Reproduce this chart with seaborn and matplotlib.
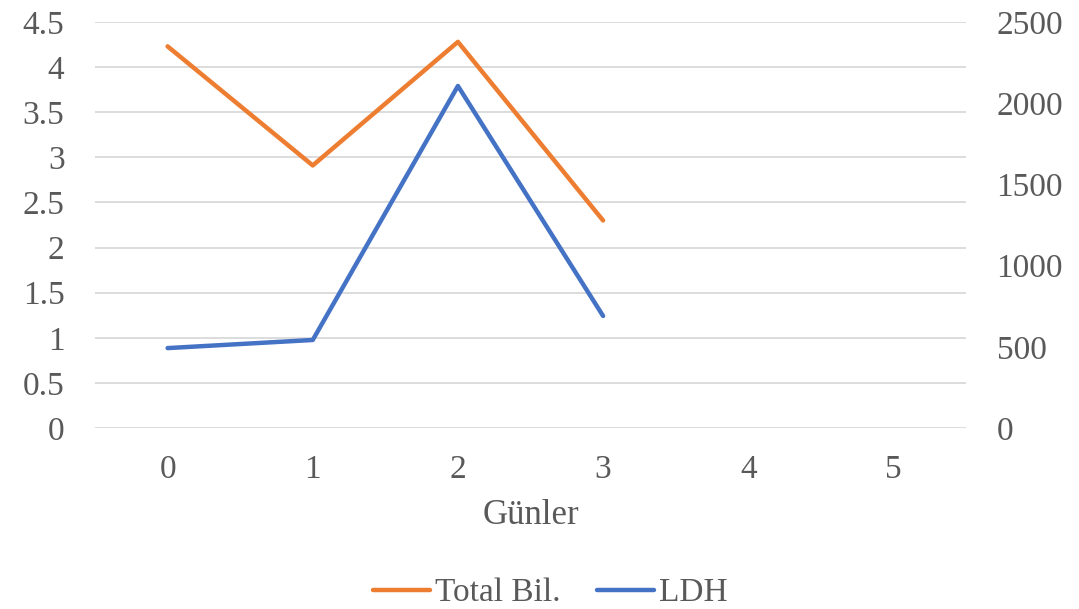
import matplotlib
matplotlib.use("Agg")
import matplotlib.pyplot as plt
import seaborn as sns
import pandas as pd

days = [0, 1, 2, 3]
all_days = [0, 1, 2, 3, 4, 5]
total_bil = [4.23, 2.91, 4.28, 2.30]
ldh = [492, 542, 2106, 690]

left_ticks = [0, 0.5, 1, 1.5, 2, 2.5, 3, 3.5, 4, 4.5]
left_labels = ["0", "0.5", "1", "1.5", "2", "2.5", "3", "3.5", "4", "4.5"]
right_ticks = [0, 500, 1000, 1500, 2000, 2500]

sns.set_theme(style="white")
plt.rcParams["font.family"] = ["Liberation Serif", "DejaVu Serif"]
TXT = "#595959"
FS = 24

df_b = pd.DataFrame({"Günler": days, "val": total_bil})
df_l = pd.DataFrame({"Günler": days, "val": ldh})

fig = plt.figure(figsize=(10.79, 6.09), dpi=100)
ax = fig.add_axes([95/1079, 1-428/609, (966-95)/1079, (428-22)/609])
ax2 = ax.twinx()

for a in (ax, ax2):
    for s in a.spines.values():
        s.set_visible(False)

ax.set_xlim(-0.5, 5.5)
ax.set_ylim(0, 4.5)
ax2.set_ylim(0, 2500)
ax.set_yticks(left_ticks)
ax.set_yticklabels(left_labels)
ax2.set_yticks(right_ticks)
ax.set_xticks(all_days)
ax.set_xticklabels([str(d) for d in all_days])
ax.grid(axis="y", color="#d9d9d9", linewidth=1.3)
ax.grid(axis="x", visible=False)
ax2.grid(False)
ax.set_axisbelow(True)

sns.lineplot(data=df_b, x="Günler", y="val", ax=ax, color="#ED7D31",
             linewidth=3.2, solid_capstyle="round", label="Total Bil.", legend=False)
sns.lineplot(data=df_l, x="Günler", y="val", ax=ax2, color="#4472C4",
             linewidth=3.2, solid_capstyle="round", label="LDH", legend=False)

ax.tick_params(axis="y", length=0, pad=22, labelsize=FS, labelcolor=TXT)
ax.tick_params(axis="x", length=0, pad=19, labelsize=FS, labelcolor=TXT)
ax2.tick_params(axis="y", length=0, pad=22, labelsize=FS, labelcolor=TXT)
ax.set_ylabel("")
ax2.set_ylabel("")
ax.set_xlabel("Günler", fontsize=FS + 1, color=TXT, labelpad=10)

h1, l1 = ax.get_legend_handles_labels()
h2, l2 = ax2.get_legend_handles_labels()
fig.legend(h1 + h2, l1 + l2, loc="center", bbox_to_anchor=(0.51, 1-593/609),
           ncol=2, frameon=False, fontsize=FS, labelcolor=TXT,
           handlelength=1.7, handletextpad=0.15, columnspacing=1.1,
           borderpad=0.1)

fig.savefig("out.png", dpi=100)
